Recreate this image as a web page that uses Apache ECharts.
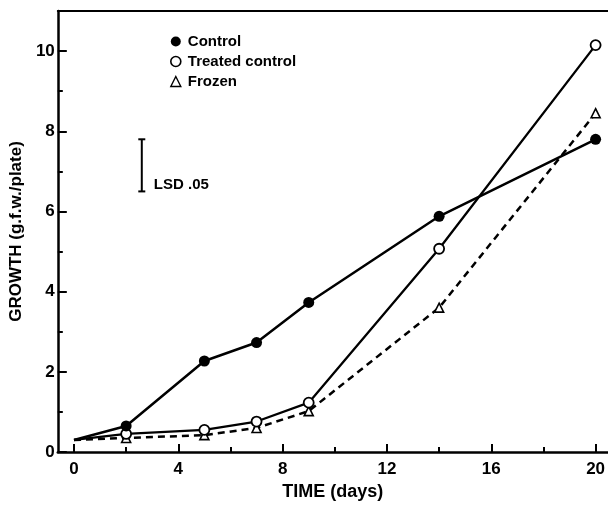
<!DOCTYPE html>
<html><head><meta charset="utf-8">
<script src="https://cdn.jsdelivr.net/npm/echarts@6/dist/echarts.min.js"></script>
<style>html,body{margin:0;padding:0;background:#fff}#c{width:608px;height:506px}</style>
</head><body><div id="c"></div>
<script>
const days = [0, 2, 5, 7, 9, 14, 20];
const control = [0.3, 0.65, 2.27, 2.73, 3.73, 5.88, 7.8];
const treatedControl = [0.3, 0.45, 0.55, 0.76, 1.23, 5.07, 10.15];
const frozen = [0.3, 0.35, 0.42, 0.6, 1.02, 3.6, 8.45];
const xMajorTicks = [0, 4, 8, 12, 16, 20];
const xMinorTicks = [2, 6, 10, 14, 18];
const yMajorTicks = [0, 2, 4, 6, 8, 10];
const yMinorTicks = [1, 3, 5, 7, 9];
const lsdX = 2.6, lsdLow = 6.5, lsdHigh = 7.8;
const lsdLabel = 'LSD .05';
const seriesNames = ['Control', 'Treated control', 'Frozen'];

const FONT = 'Liberation Sans';
// the common starting point (day 0) is drawn without a marker, as in the original
const pair = arr => days.map((d, i) => i === 0 ? {value:[d, arr[i]], symbol:'none'} : [d, arr[i]]);
const chart = echarts.init(document.getElementById('c'));
const baseX = {type:'value', min:-0.62, max:20.46, gridIndex:0, splitLine:{show:false}};
const baseY = {type:'value', min:0, max:11, gridIndex:0, splitLine:{show:false}};
chart.setOption({
  animation:false,
  backgroundColor:'#fff',
  grid:{left:55, right:0, top:11, bottom:49, containLabel:false},
  legend:{
    left:165, top:29, orient:'vertical', itemGap:5, itemWidth:10, itemHeight:10,
    textStyle:{fontFamily:FONT, fontWeight:'bold', fontSize:15, color:'#000', padding:[0,0,0,2]},
    data:[
      {name:seriesNames[0], icon:'circle', itemStyle:{color:'#000', borderWidth:0}},
      {name:seriesNames[1], icon:'circle', itemStyle:{color:'#fff', borderColor:'#000', borderWidth:1.6}},
      {name:seriesNames[2], icon:'triangle', itemStyle:{color:'#fff', borderColor:'#000', borderWidth:1.4}}
    ]
  },
  xAxis:[
    Object.assign({}, baseX, {position:'bottom',
      name:'TIME (days)', nameLocation:'middle', nameGap:31,
      nameTextStyle:{fontFamily:FONT, fontWeight:'bold', fontSize:18, color:'#000'},
      axisLine:{show:true, onZero:false, lineStyle:{color:'#000', width:2.5}},
      axisTick:{show:true, inside:true, length:8, customValues:xMajorTicks, lineStyle:{color:'#000', width:2}},
      axisLabel:{show:true, margin:9, customValues:xMajorTicks, fontFamily:FONT, fontWeight:'bold', fontSize:17, color:'#000'}
    }),
    Object.assign({}, baseX, {position:'bottom',
      axisLine:{show:false, onZero:false},
      axisTick:{show:true, inside:true, length:5, customValues:xMinorTicks, lineStyle:{color:'#000', width:2}},
      axisLabel:{show:false}
    }),
    Object.assign({}, baseX, {position:'top',
      axisLine:{show:true, onZero:false, lineStyle:{color:'#000', width:2}},
      axisTick:{show:false}, axisLabel:{show:false}
    })
  ],
  yAxis:[
    Object.assign({}, baseY, {position:'left',
      name:'GROWTH (g.f.w./plate)', nameLocation:'middle', nameGap:32,
      nameTextStyle:{fontFamily:FONT, fontWeight:'bold', fontSize:17, color:'#000'},
      axisLine:{show:true, onZero:false, lineStyle:{color:'#000', width:2.5}},
      axisTick:{show:true, inside:true, length:9, customValues:yMajorTicks, lineStyle:{color:'#000', width:2}},
      axisLabel:{show:true, margin:3, customValues:yMajorTicks, fontFamily:FONT, fontWeight:'bold', fontSize:17, color:'#000'}
    }),
    Object.assign({}, baseY, {position:'left',
      axisLine:{show:false, onZero:false},
      axisTick:{show:true, inside:true, length:5, customValues:yMinorTicks, lineStyle:{color:'#000', width:2}},
      axisLabel:{show:false}
    })
  ],
  series:[
    {name:seriesNames[0], type:'line', xAxisIndex:0, yAxisIndex:0, data:pair(control),
      symbol:'circle', symbolSize:11, showAllSymbol:true, z:5,
      itemStyle:{color:'#000', borderWidth:0},
      lineStyle:{color:'#000', width:2.5, type:'solid'}},
    {name:seriesNames[1], type:'line', xAxisIndex:0, yAxisIndex:0, data:pair(treatedControl),
      symbol:'circle', symbolSize:10, showAllSymbol:true, z:4,
      itemStyle:{color:'#fff', borderColor:'#000', borderWidth:1.8},
      lineStyle:{color:'#000', width:2.3, type:'solid'}},
    {name:seriesNames[2], type:'line', xAxisIndex:0, yAxisIndex:0, data:pair(frozen),
      symbol:'triangle', symbolSize:9, showAllSymbol:true, z:3,
      itemStyle:{color:'#fff', borderColor:'#000', borderWidth:1.6},
      lineStyle:{color:'#000', width:2.5, type:[7,5]}},
    {name:'LSD', type:'custom', xAxisIndex:0, yAxisIndex:0, data:[[lsdX, lsdLow, lsdHigh]],
      silent:true, z:6,
      renderItem:function(params, api){
        const top = api.coord([api.value(0), api.value(2)]);
        const bot = api.coord([api.value(0), api.value(1)]);
        const s = 3.5;
        const st = {stroke:'#000', lineWidth:2};
        return {type:'group', children:[
          {type:'line', shape:{x1:top[0], y1:top[1], x2:bot[0], y2:bot[1]}, style:st},
          {type:'line', shape:{x1:top[0]-s, y1:top[1], x2:top[0]+s, y2:top[1]}, style:st},
          {type:'line', shape:{x1:bot[0]-s, y1:bot[1], x2:bot[0]+s, y2:bot[1]}, style:st},
          {type:'text', style:{x:bot[0]+12, y:bot[1]+1, text:lsdLabel, verticalAlign:'bottom',
            fontFamily:FONT, fontWeight:'bold', fontSize:15, fill:'#000'}}
        ]};
      }
    }
  ]
});
</script></body></html>
